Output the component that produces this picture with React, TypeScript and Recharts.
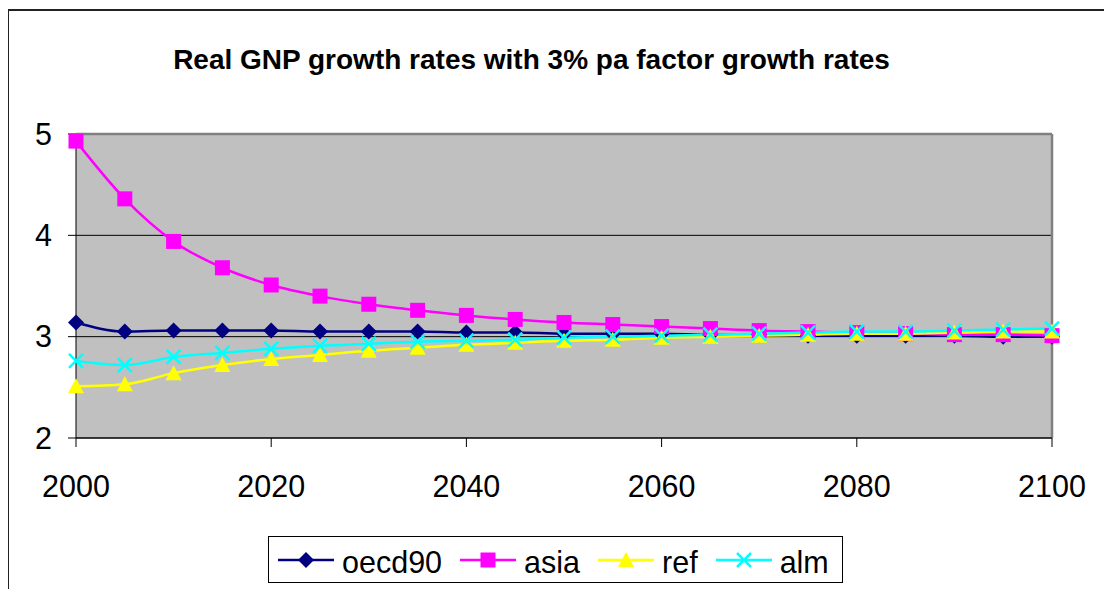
import React from "react";
import {
  LineChart,
  Line,
  XAxis,
  YAxis,
  CartesianGrid,
  ReferenceLine,
} from "recharts";

const years = [
  2000, 2005, 2010, 2015, 2020, 2025, 2030, 2035, 2040, 2045, 2050,
  2055, 2060, 2065, 2070, 2075, 2080, 2085, 2090, 2095, 2100,
];

const oecd90 = [
  3.14, 3.05, 3.06, 3.06, 3.06, 3.05, 3.05, 3.05, 3.04, 3.04, 3.03,
  3.03, 3.03, 3.02, 3.02, 3.01, 3.01, 3.01, 3.01, 3.0, 3.0,
];
const asia = [
  4.93, 4.36, 3.94, 3.68, 3.51, 3.4, 3.32, 3.26, 3.21, 3.17, 3.14,
  3.12, 3.1, 3.08, 3.06, 3.05, 3.04, 3.03, 3.02, 3.02, 3.01,
];
const ref = [
  2.51, 2.53, 2.64, 2.72, 2.78, 2.82, 2.86, 2.89, 2.92, 2.94, 2.96,
  2.97, 2.99, 3.0, 3.01, 3.02, 3.03, 3.03, 3.04, 3.05, 3.05,
];
const alm = [
  2.76, 2.72, 2.8, 2.84, 2.88, 2.91, 2.93, 2.95, 2.96, 2.97, 2.99,
  3.0, 3.01, 3.02, 3.03, 3.04, 3.05, 3.05, 3.06, 3.07, 3.08,
];

const xTicks = [2000, 2020, 2040, 2060, 2080, 2100];
const yTicks = [2, 3, 4, 5];

const title = "Real GNP growth rates with 3% pa factor growth rates";

const FONT = '"Liberation Sans", Arial, sans-serif';

type Shape = "diamond" | "square" | "triangle" | "cross";

const series: { key: string; name: string; color: string; shape: Shape }[] = [
  { key: "oecd90", name: "oecd90", color: "#000080", shape: "diamond" },
  { key: "asia", name: "asia", color: "#FF00FF", shape: "square" },
  { key: "ref", name: "ref", color: "#FFFF00", shape: "triangle" },
  { key: "alm", name: "alm", color: "#00FFFF", shape: "cross" },
];

const data = years.map((year, i) => ({
  year,
  oecd90: oecd90[i],
  asia: asia[i],
  ref: ref[i],
  alm: alm[i],
}));

function Marker({ shape, color, cx, cy }: { shape: Shape; color: string; cx: number; cy: number }) {
  if (shape === "diamond") {
    const r = 8;
    return (
      <polygon
        points={`${cx},${cy - r} ${cx + r},${cy} ${cx},${cy + r} ${cx - r},${cy}`}
        fill={color}
      />
    );
  }
  if (shape === "square") {
    const r = 7.5;
    return <rect x={cx - r} y={cy - r} width={2 * r} height={2 * r} fill={color} />;
  }
  if (shape === "triangle") {
    return (
      <polygon
        points={`${cx},${cy - 8} ${cx + 8},${cy + 7} ${cx - 8},${cy + 7}`}
        fill={color}
      />
    );
  }
  const r = 7;
  return (
    <g stroke={color} strokeWidth={2.5}>
      <line x1={cx - r} y1={cy - r} x2={cx + r} y2={cy + r} />
      <line x1={cx - r} y1={cy + r} x2={cx + r} y2={cy - r} />
    </g>
  );
}

export default function App() {
  return (
    <div
      style={{
        position: "absolute",
        left: 0,
        top: 0,
        width: 1104,
        height: 589,
        overflow: "hidden",
        background: "#fff",
        fontFamily: FONT,
      }}
    >
      {/* outer chart frame, only top and left edges are visible */}
      <div
        style={{
          position: "absolute",
          left: 8,
          top: 9,
          width: 1200,
          height: 700,
          borderTop: "2px solid #222",
          borderLeft: "1px solid #222",
        }}
      />

      <div
        style={{
          position: "absolute",
          left: 0,
          top: 46,
          width: 1063,
          textAlign: "center",
          fontSize: 28,
          lineHeight: "27px",
          fontWeight: "bold",
          color: "#000",
        }}
      >
        {title}
      </div>

      <div style={{ position: "absolute", left: 0, top: 0 }}>
        <LineChart
          width={1104}
          height={589}
          data={data}
          margin={{ top: 134, right: 52, left: 0, bottom: 91 }}
        >
          <CartesianGrid
            vertical={false}
            stroke="#000"
            strokeWidth={1}
            fill="#C0C0C0"
            fillOpacity={1}
          />
          <ReferenceLine y={5} stroke="#808080" strokeWidth={2.5} />
          <ReferenceLine x={2100} stroke="#808080" strokeWidth={2.5} />
          <XAxis
            dataKey="year"
            type="number"
            domain={[2000, 2100]}
            ticks={xTicks}
            height={60}
            tickSize={9}
            tickMargin={28}
            stroke="#000"
            tick={{ fill: "#000", fontSize: 30.5, fontFamily: FONT }}
            interval={0}
          />
          <YAxis
            domain={[2, 5]}
            ticks={yTicks}
            width={76}
            tickSize={8}
            tickMargin={16}
            stroke="#000"
            tick={{ fill: "#000", fontSize: 30.5, fontFamily: FONT }}
            interval={0}
          />
          {series.map((s) => (
            <Line
              key={s.key}
              dataKey={s.key}
              name={s.name}
              type="monotone"
              stroke={s.color}
              strokeWidth={2.5}
              isAnimationActive={false}
              activeDot={false}
              dot={(p: any) => (
                <Marker key={`${s.key}-${p.index}`} shape={s.shape} color={s.color} cx={p.cx} cy={p.cy} />
              )}
            />
          ))}
        </LineChart>
      </div>

      {/* legend */}
      <div
        style={{
          position: "absolute",
          left: 268,
          top: 536,
          width: 575,
          height: 47,
          boxSizing: "border-box",
          border: "1px solid #000",
          display: "flex",
          alignItems: "center",
          paddingLeft: 9,
          paddingTop: 5,
          fontSize: 30.5,
          color: "#000",
        }}
      >
        {series.map((s) => (
          <div key={s.key} style={{ display: "flex", alignItems: "center", marginRight: 18 }}>
            <svg width={56} height={20} style={{ marginRight: 8, marginTop: -5 }}>
              <line x1={0} y1={10} x2={56} y2={10} stroke={s.color} strokeWidth={2.5} />
              <Marker shape={s.shape} color={s.color} cx={28} cy={10} />
            </svg>
            <span>{s.name}</span>
          </div>
        ))}
      </div>
    </div>
  );
}
